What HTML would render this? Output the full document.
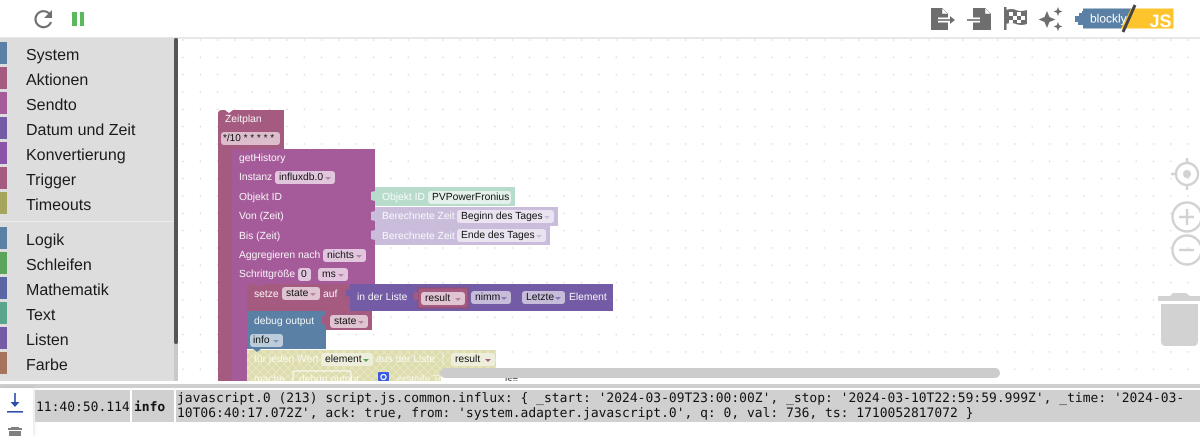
<!DOCTYPE html>
<html><head><meta charset="utf-8">
<style>
html,body{margin:0;padding:0;background:#fff}
#r{position:relative;width:1200px;height:436px;overflow:hidden;background:#fff;font-family:"Liberation Sans",sans-serif;text-rendering:geometricPrecision}
#r div{position:absolute;box-sizing:border-box}
.c{left:0;width:7px;height:22px}
.t{left:26px;font-size:16px;line-height:20px;color:#1a1a1a;white-space:nowrap}
.l{font-size:10.3px;line-height:14px;color:#fff;white-space:nowrap;opacity:.92;transform:translateY(1px)}
.f{font-size:10.3px;line-height:14.5px;height:13px;border-radius:3px;color:#111;white-space:nowrap;padding-left:4px;background:#e0c4d2}
.a:after{content:"";position:absolute;right:4px;top:5.5px;border-left:3px solid transparent;border-right:3px solid transparent;border-top:3px solid var(--ar,rgba(120,60,100,.45))}
.p{background:#e2c6de}
.m{font-family:"DejaVu Sans Mono","Liberation Mono",monospace;font-size:12.97px;line-height:15px;color:#111;white-space:pre}
.g{background:#d0d0d0;height:32px;top:390px}
</style></head><body><div id="r">
<svg style="position:absolute;left:0;top:0" width="1200" height="436">
<defs>
<pattern id="d" x="183" y="40" width="17.33" height="17.33" patternUnits="userSpaceOnUse"><rect x="-.6" y="-.6" width="1.2" height="1.2" fill="#ccc"/><rect x="16.73" y="-.6" width="1.2" height="1.2" fill="#ccc"/><rect x="-.6" y="16.73" width="1.2" height="1.2" fill="#ccc"/><rect x="16.73" y="16.73" width="1.2" height="1.2" fill="#ccc"/></pattern>
<pattern id="h" width="8" height="8" patternUnits="userSpaceOnUse"><rect width="8" height="8" fill="#dddcaa"/><path d="M0 0L8 8M8 0L0 8" stroke="#e6e6c4" stroke-width="1.2"/></pattern>
</defs>
<rect x="178" y="39" width="1022" height="342" fill="url(#d)"/>
</svg>
<div style="left:0;top:37px;width:1200px;height:2px;background:#e8e8e8"></div>
<!-- sidebar -->
<div style="left:0;top:38px;width:174px;height:343px;background:#ddd"></div>
<div style="left:174px;top:38px;width:4px;height:343px;background:#c9c9c9"></div>
<div style="left:174px;top:38px;width:4px;height:306px;background:#555;border-radius:2px"></div>
<div style="left:0;top:221px;width:174px;height:1px;background:#ececec"></div>
<div class="c" style="top:42px;background:#5b80a5"></div>
<div class="c" style="top:67px;background:#a55b80"></div>
<div class="c" style="top:92px;background:#a55b99"></div>
<div class="c" style="top:117px;background:#745ba5"></div>
<div class="c" style="top:142px;background:#8a55a8"></div>
<div class="c" style="top:167px;background:#a55b80"></div>
<div class="c" style="top:192px;background:#a5a55b"></div>
<div class="c" style="top:227px;background:#5b80a5"></div>
<div class="c" style="top:252px;background:#5ba55b"></div>
<div class="c" style="top:277px;background:#5b67a5"></div>
<div class="c" style="top:302px;background:#5ba58c"></div>
<div class="c" style="top:327px;background:#745ba5"></div>
<div class="c" style="top:352px;background:#a5745b"></div>
<div class="t" style="top:46px">System</div>
<div class="t" style="top:71px">Aktionen</div>
<div class="t" style="top:96px">Sendto</div>
<div class="t" style="top:121px">Datum und Zeit</div>
<div class="t" style="top:146px">Konvertierung</div>
<div class="t" style="top:171px">Trigger</div>
<div class="t" style="top:196px">Timeouts</div>
<div class="t" style="top:231px">Logik</div>
<div class="t" style="top:256px">Schleifen</div>
<div class="t" style="top:281px">Mathematik</div>
<div class="t" style="top:306px">Text</div>
<div class="t" style="top:331px">Listen</div>
<div class="t" style="top:356px">Farbe</div>
<!-- blocks -->
<svg style="position:absolute;left:0;top:0" width="1200" height="381">
<path d="M222 110h3l4 3 4-3h51v39h-52v232h-14V114q0-4 4-4z" fill="#a55b80"/>
<rect x="232" y="149" width="24" height="5" fill="#a55b80"/>
<path d="M236 149h4l4 3 4-3h127v135H247v97h-15V153q0-4 4-4z" fill="#a55b99"/>
<rect x="247" y="284" width="24" height="5" fill="#a55b99"/>
<path d="M251 284h4l4 3 4-3h87v27H247v-23q0-4 4-4z" fill="#a55b80"/>
<rect x="247" y="311" width="79" height="38" fill="#5b80a5"/>
<rect x="326" y="311" width="46" height="19" fill="#a55b80"/>
<path d="M326 315l-4 1v8l4 1z" fill="#a55b80"/>
<rect x="350" y="284" width="263" height="27" fill="#745ba5"/>
<path d="M350 289l-4 1v6l4 1z" fill="#745ba5"/>
<rect x="418" y="288" width="50" height="20" fill="#a55b80" stroke="#8f4a6d" stroke-width="1"/>
<path d="M418 292l-4 1v6l4 1z" fill="#a55b80"/>
<rect x="375" y="187" width="140" height="19" fill="#b7dccb"/>
<path d="M375 191l-4 1v8l4 1z" fill="#b7dccb"/>
<rect x="375" y="207" width="183" height="19" fill="#c9bddb"/>
<path d="M375 211l-4 1v8l4 1z" fill="#c9bddb"/>
<rect x="375" y="226" width="175" height="19" fill="#c9bddb"/>
<path d="M375 230l-4 1v8l4 1z" fill="#c9bddb"/>
<path d="M247 350h249v20H375v11H247z" fill="url(#h)"/>
<rect x="375" y="370" width="66" height="11" fill="url(#h)"/>
<path d="M253 349l4 3 4-3z" fill="#5b80a5"/>
<path d="M293 381v-7q0-3 3-3h53q2 0 2 2v8" fill="none" stroke="#fff" stroke-width="1"/>
<path d="M443 352v13" stroke="#eee" stroke-width="1"/>
<rect x="378" y="372" width="11" height="9" rx="1" fill="#3b5be0"/>
<circle cx="383.500" cy="377" r="2.500" fill="none" stroke="#fff" stroke-width="1.300"/>
</svg>
<div class="l" style="left:225px;top:112px">Zeitplan</div>
<div class="f" style="left:221px;top:132px;width:59px;background:#dbbdcc;padding-left:2px;font-size:10px">*/10 * * * * *</div>
<div class="l" style="left:239px;top:151px">getHistory</div>
<div class="l" style="left:239px;top:170px">Instanz</div>
<div class="f a p" style="left:275px;top:171px;width:60px">influxdb.0</div>
<div class="l" style="left:239px;top:190px">Objekt ID</div>
<div class="l" style="left:239px;top:209px">Von (Zeit)</div>
<div class="l" style="left:239px;top:229px">Bis (Zeit)</div>
<div class="l" style="left:239px;top:248px">Aggregieren nach</div>
<div class="f a p" style="left:323px;top:249px;width:43px">nichts</div>
<div class="l" style="left:239px;top:267px">Schrittgröße</div>
<div class="f p" style="left:298px;top:268px;width:13px;padding-left:3px">0</div>
<div class="f a p" style="left:318px;top:268px;width:30px">ms</div>
<div class="l" style="left:254px;top:287px">setze</div>
<div class="f a" style="left:282px;top:287px;width:38px">state</div>
<div class="l" style="left:323px;top:287px">auf</div>
<div class="l" style="left:357px;top:290px">in der Liste</div>
<div class="f a" style="left:421px;top:292px;width:44px">result</div>
<div class="f a" style="left:471px;top:291px;width:40px;background:#c7bddb;--ar:#8a78ad">nimm</div>
<div class="f a" style="left:522px;top:291px;width:43px;background:#c7bddb;--ar:#8a78ad">Letzte</div>
<div class="l" style="left:569px;top:290px">Element</div>
<div class="l" style="left:254px;top:314px">debug output</div>
<div class="f a" style="left:330px;top:315px;width:38px">state</div>
<div class="f a" style="left:250px;top:334px;width:33px;background:#bdccdb;--ar:#7f9bb8;padding-left:3px">info</div>
<div class="l" style="left:254px;top:352px;opacity:.8">für jeden Wert</div>
<div class="f a" style="left:321px;top:353px;width:52px;background:#eeeedd;--ar:#5ba55b">element</div>
<div class="l" style="left:376px;top:352px;opacity:.8">aus der Liste</div>
<div class="f a" style="left:451px;top:353px;width:44px;background:#eeeedd;--ar:#a55b80">result</div>
<div class="l" style="left:254px;top:372px;opacity:.8">mache</div>
<div class="l" style="left:299px;top:372px;opacity:.8">debug output</div>
<div class="l" style="left:397px;top:372px;opacity:.7">erstelle Text aus</div>
<div class="f" style="left:505px;top:374px;width:20px;background:none;font-size:10px;padding:0;color:#333">is=</div>
<div style="left:440px;top:368px;width:560px;height:10px;background:#ccc;border-radius:5px"></div>
<!-- bottom -->
<div style="left:0;top:381px;width:1200px;height:3px;background:#fff"></div>
<div style="left:0;top:384px;width:1200px;height:4px;background:#cfcfcf"></div>
<div style="left:0;top:388px;width:33px;height:48px;background:#fff;box-shadow:1px 0 4px rgba(0,0,0,.13)"></div>
<div class="g" style="left:35px;width:95px"></div>
<div class="g" style="left:132px;width:42px"></div>
<div class="g" style="left:176px;width:1024px"></div>
<div class="m" style="left:36px;top:400px">11:40:50.114</div>
<div class="m" style="left:134px;top:400px;font-weight:700">info</div>
<div class="m" style="left:177px;top:391px">javascript.0 (213) script.js.common.influx: { _start: '2024-03-09T23:00:00Z', _stop: '2024-03-10T22:59:59.999Z', _time: '2024-03-
10T06:40:17.072Z', ack: true, from: 'system.adapter.javascript.0', q: 0, val: 736, ts: 1710052817072 }</div>
<!-- controls and icons -->
<svg style="position:absolute;left:0;top:0" width="1200" height="436">
<g fill="none" stroke="#d2d2d2" stroke-width="2.400">
<circle cx="1187" cy="174" r="11"/>
<path d="M1187 158v5M1187 185v5M1171 174h5"/>
<circle cx="1187" cy="217" r="14.500"/>
<path d="M1187 209v16M1179 217h15"/>
<circle cx="1187" cy="250" r="14.500"/>
<path d="M1179 250h15"/>
</g>
<circle cx="1187" cy="174" r="4" fill="#d2d2d2"/>
<path d="M1158 296h12l3-3h13l4 3h10v5h-42z" fill="#d2d2d2"/>
<path d="M1161 304h37v37q0 5-5 5h-27q-5 0-5-5z" fill="#d2d2d2"/>
<path d="M50 14.500A8 8 0 1 0 51 22" fill="none" stroke="#707070" stroke-width="2.200"/>
<path d="M52 10v8h-8z" fill="#707070"/>
<rect x="72" y="12" width="5" height="14" fill="#5cb85c"/>
<rect x="80" y="12" width="4" height="14" fill="#5cb85c"/>
<g fill="#6e6e6e">
<path d="M931 8h11l6 6v16h-17z"/>
<path d="M942 8v6h6z" fill="#fff" stroke="#6e6e6e" stroke-width=".5"/>
<path d="M938 20h12" stroke="#fff" stroke-width="5"/>
<path d="M938 20h13" stroke="#6e6e6e" stroke-width="1.600"/>
<path d="M950 16l5 4-5 4z"/>
<path d="M973 8h12l6 6v16h-18z"/>
<path d="M985 8v6h6z" fill="#fff" stroke="#6e6e6e" stroke-width=".5"/>
<path d="M967 20h14" stroke="#fff" stroke-width="5"/>
<path d="M967 20h14" stroke="#6e6e6e" stroke-width="1.600"/>
<path d="M980 16l5 4-5 4z"/>
<rect x="1004" y="7" width="2.500" height="23"/>
<path d="M1006 10q6-2 10 0t11 0v14q-6 2-11 0t-10 0z"/>
<path d="M1047 11l2.500 6 6 2.500-6 2.500-2.500 6-2.500-6-6-2.500 6-2.500z"/>
<path d="M1058 7l1.300 3.200 3.200 1.300-3.200 1.300-1.300 3.200-1.300-3.200-3.200-1.300 3.200-1.300z"/>
<path d="M1058 22l1.300 3.200 3.200 1.300-3.200 1.300-1.300 3.200-1.300-3.200-3.200-1.300 3.200-1.300z"/>
</g>
<path d="M1009 12h4v4h-4zM1017 12h4v4h-4zM1013 16h4v4h-4zM1021 16h4v4h-4zM1009 20h4v3h-4zM1017 20h4v3h-4z" fill="#fff"/>
<path d="M1079 13h3v-2h3v2h2v12h-9v-3h-3v-6h4z" fill="#5b80a5"/>
<rect x="1083" y="8.500" width="48" height="20" fill="#5b80a5"/>
<path d="M1131 8.500h42.500v20H1121z" fill="#fec42d"/>
<text x="1090" y="22.500" font-family="Liberation Sans,sans-serif" font-size="12" fill="#fff">blockly</text>
<text x="1149.500" y="27" font-family="Liberation Sans,sans-serif" font-size="18" font-weight="700" fill="#fff">JS</text>
<path d="M1135 5l-12 27" stroke="#444" stroke-width="3"/>
<path d="M15 393v12" stroke="#2a4fa8" stroke-width="1.600"/>
<path d="M10.500 402l4.500 5 4.500-5z" fill="#2a4fa8"/>
<rect x="7" y="411" width="16" height="1.600" fill="#2a4fa8"/>
<path d="M8 428h14v2H8zM11 427h8v2h-8zM9 431h12v5H9z" fill="#808080"/>
</svg>
<!-- value fields -->
<div class="l" style="left:382px;top:190px;opacity:.9">Objekt ID</div>
<div class="f" style="left:428px;top:191px;width:83px;background:#e3f1ea">PVPowerFronius</div>
<div class="l" style="left:382px;top:209px;opacity:.9">Berechnete Zeit</div>
<div class="f a" style="left:457px;top:210px;width:97px;background:#e9e4f0;--ar:#c9bddb">Beginn des Tages</div>
<div class="l" style="left:382px;top:229px;opacity:.9">Berechnete Zeit</div>
<div class="f a" style="left:457px;top:229px;width:89px;background:#e9e4f0;--ar:#c9bddb">Ende des Tages</div>
</div></body></html>
